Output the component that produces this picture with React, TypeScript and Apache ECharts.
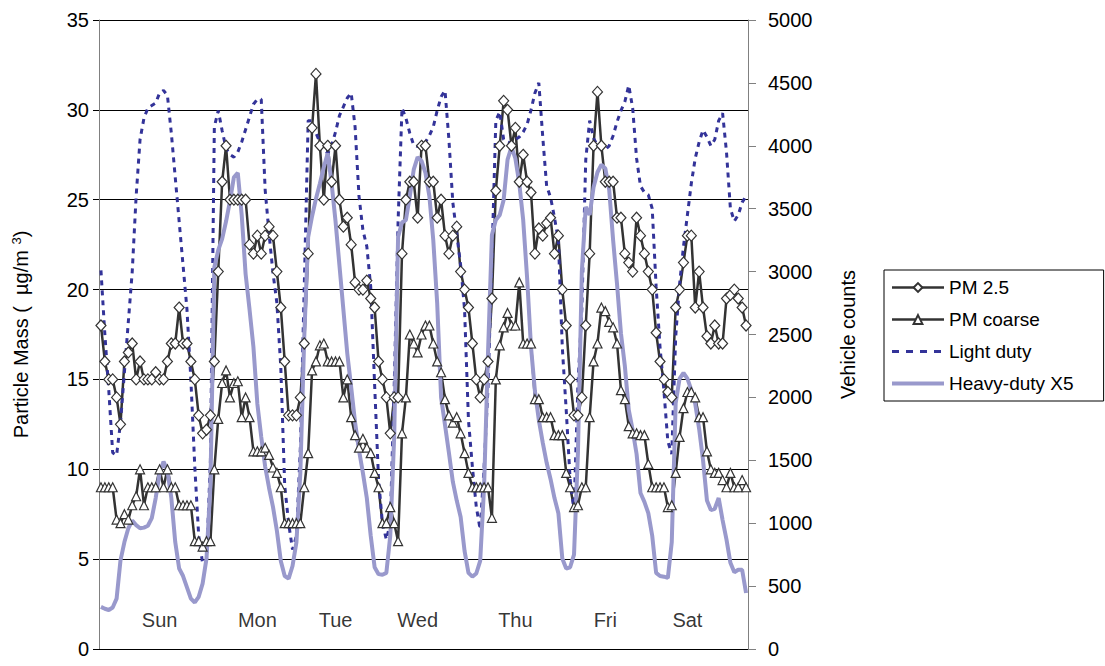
import React, { useEffect, useRef } from "react";
import * as echarts from "echarts";

// hourly categories across the week
const hourCount = 166;
const hours: string[] = Array.from({ length: hourCount }, (_, i) => String(i));

const pm25: number[] = [
  18, 16, 15, 15, 14, 12.5, 16, 16.5, 17, 15, 16, 15, 15, 15, 15.4, 15, 15, 16, 17, 17, 19, 17, 17, 16, 15, 13, 12, 12.2, 13, 16,
  21, 26, 28, 25, 25, 25, 25, 25, 22.5, 22, 23, 22, 23, 23.5, 23, 21, 19, 16, 13, 13, 13, 14, 17, 22, 29, 32, 28, 25, 28, 26,
  28, 25, 23.5, 24, 22.5, 20.4, 20, 20, 20.5, 19.5, 19, 16, 15, 14, 12, 14, 14, 22, 25, 26, 26, 24, 28, 28, 26, 26, 24, 25, 23, 22,
  23, 23.5, 21, 20, 19, 17, 15, 14, 15, 16, 19.5, 25.5, 28, 30.5, 30, 28, 29, 26, 27.5, 26, 25.4, 22, 23.4, 23, 23.7, 24, 22, 23, 20, 18,
  15, 13, 13, 14, 18, 22, 28, 31, 28, 26, 26, 26, 24, 24, 22, 21.5, 21, 24, 23, 22, 21, 20, 17.6, 16, 15, 14.3, 14, 19, 20, 21.5,
  23, 23, 19, 21, 19, 17.4, 17, 18, 17, 17, 19.5, 19.7, 20, 19.5, 19, 18,
];

const pmCoarse: number[] = [
  9, 9, 9, 9, 7.2, 7, 7.5, 7.2, 8, 8.5, 10, 8, 9, 9, 9, 10, 9, 10, 9, 9, 8, 8, 8, 8, 6, 6, 5.7, 6, 6, 10,
  12.8, 14.8, 15.5, 14, 14.8, 14.9, 12.9, 14, 12.9, 11, 11, 11, 11.2, 10.8, 10.1, 9.8, 9, 7, 7, 7, 7, 7, 9, 10.9, 15.5, 16, 16.9, 17, 16, 16,
  16, 16, 14, 15, 12.9, 11.9, 11.2, 11.7, 11.2, 10.9, 9.8, 9, 7, 7, 7.9, 7, 6, 12, 14, 17.5, 17, 16.5, 17.5, 18, 18, 17, 16, 15.4, 13.9, 13,
  12.6, 12.9, 12, 10.9, 9.8, 9, 9, 9, 9, 9, 7.3, 15, 16.9, 17.9, 18.7, 18, 18, 20.4, 17, 17, 17, 13.9, 13.9, 12.9, 12.9, 12.9, 11.9, 11.9, 11.9, 9.8,
  9, 7.9, 8, 9, 9, 12.9, 16, 17, 19, 18.8, 18.2, 17.9, 17, 14.4, 13.9, 12.4, 12, 12, 11.9, 11.9, 10.3, 9, 9, 9, 9, 7.9, 8, 9.8, 11.8, 13.4,
  14.3, 14.3, 14, 12.9, 12.9, 11, 10, 9.8, 9.8, 9.4, 9, 9.8, 9, 9, 9.4, 9,
];

const lightDuty: number[] = [
  3010, 2500, 2060, 1560, 1540, 1800, 2200, 2600, 3000, 3600, 4050, 4220, 4300, 4320, 4340, 4420, 4440, 4400, 4100, 3750, 3400, 3050, 2700, 2140, 1450, 900, 680, 700, 1500, 4150,
  4280, 4120, 3980, 3930, 3910, 3950, 4030, 4130, 4230, 4330, 4370, 4370, 3650, 3300, 2990, 2750, 2240, 1300, 1000, 790, 900, 1600, 2880, 4200, 4200, 4100, 4030, 3980, 3940, 4000,
  4110, 4240, 4310, 4380, 4420, 4150, 3600, 3330, 3200, 2880, 2100, 1350, 1000, 870, 1000, 2080, 3400, 4300, 4220, 4100, 4005, 3995, 3990, 4030, 4080, 4150, 4280, 4390, 4440, 4050,
  3550, 3300, 3050, 2700, 1820, 1450, 1130, 950, 1450, 2080, 3100, 4200, 4270, 4050, 4030, 4020, 4050, 4070, 4110, 4170, 4285, 4420, 4500, 4070, 3680, 3590, 3430, 3250, 2400, 1900,
  1350, 1100, 2100, 2700, 3890, 4200, 4060, 4000, 3970, 3970, 4000, 4080, 4190, 4280, 4350, 4480, 4300, 3900, 3680, 3630, 3610, 3500, 2880, 2400, 2050, 1650, 1550, 2480, 2900, 3200,
  3450, 3700, 3900, 4030, 4125, 4070, 4000, 4050, 4200, 4260, 3950, 3500, 3400, 3450, 3550, 3600,
];

const heavyDutyX5: number[] = [
  335, 320, 310, 330, 400, 705, 850, 960, 1020, 985, 960, 965, 980, 1040, 1200, 1400, 1490, 1420, 1200, 850, 640, 580, 490, 400, 370, 415, 520, 720, 1300, 3035,
  3170, 3260, 3400, 3560, 3750, 3785, 3450, 2980, 2700, 2400, 1950, 1685, 1450, 1280, 1130, 940, 700, 580, 560, 660, 850, 1400, 2480, 3275, 3440, 3580, 3700, 3830, 3940, 3700,
  3400, 3050, 2700, 2350, 2080, 1800, 1580, 1400, 1200, 900, 650, 595, 590, 605, 900, 1685, 3275, 3390, 3410, 3600, 3810, 3910, 3880, 3785, 3600, 3250, 2750, 2000, 1780, 1560,
  1330, 1180, 1050, 780, 605, 575, 600, 700, 1290, 2350, 3290, 3410, 3450, 3570, 3890, 3990, 3900, 3700, 3410, 2950, 2400, 2050, 1820, 1640, 1480, 1350, 1200, 1080, 720, 640,
  650, 750, 1560, 3000, 3515, 3450, 3670, 3790, 3850, 3820, 3650, 3250, 2900, 2510, 2250, 1900, 1740, 1550, 1240, 1170, 1080, 900, 605, 580, 575, 565, 850, 1955, 2150, 2195,
  2150, 2060, 1950, 1750, 1500, 1180, 1105, 1115, 1200, 1025, 870, 685, 610, 630, 630, 445,
];

const dayNames: string[] = ["Sun", "Mon", "Tue", "Wed", "Thu", "Fri", "Sat"];
const dayLabelHour: number[] = [15, 40, 60, 81, 106, 129, 150];
const dayLabelLevel = 1.6;

const seriesNames = ["PM 2.5", "PM coarse", "Light duty", "Heavy-duty X5"];

const FONT = "'Liberation Sans', Arial, sans-serif";

export default function App() {
  const ref = useRef<HTMLDivElement>(null);
  useEffect(() => {
    if (!ref.current) return;
    const chart = echarts.init(ref.current, undefined, { renderer: "svg" });
    chart.setOption({
      animation: false,
      backgroundColor: "#ffffff",
      textStyle: { fontFamily: FONT, color: "#000" },
      grid: { left: 99, right: 357, top: 20, bottom: 17, containLabel: false },
      legend: {
        data: [
          { name: seriesNames[0], lineStyle: { width: 2.5 } },
          { name: seriesNames[1], lineStyle: { width: 2.5 } },
          { name: seriesNames[2], itemStyle: { opacity: 0 }, lineStyle: { width: 3, type: [7, 7] } },
          { name: seriesNames[3], itemStyle: { opacity: 0 }, lineStyle: { width: 4 } },
        ],
        orient: "vertical",
        left: 884,
        top: 270,
        padding: [8, 30, 8, 6],
        itemWidth: 52,
        itemHeight: 11,
        itemGap: 13,
        borderColor: "#000",
        borderWidth: 1,
        backgroundColor: "#fff",
        textStyle: { fontFamily: FONT, fontSize: 19, color: "#000" },
      },
      xAxis: {
        type: "category",
        data: hours,
        boundaryGap: true,
        axisLine: { show: true, lineStyle: { color: "#000", width: 1 } },
        axisTick: { show: false },
        axisLabel: { show: false },
        splitLine: { show: false },
      },
      yAxis: [
        {
          type: "value",
          min: 0,
          max: 35,
          interval: 5,
          position: "left",
          name: "{a|Particle Mass (  \u00b5g/m }{s|3}{a|)}",
          nameLocation: "middle",
          nameGap: 67,
          nameRotate: 90,
          nameTextStyle: {
            rich: {
              a: { fontFamily: FONT, fontSize: 20, color: "#000" },
              s: { fontFamily: FONT, fontSize: 13, color: "#000", padding: [0, 0, 9, 0] },
            },
          },
          axisLine: { show: true, lineStyle: { color: "#808080", width: 1 } },
          axisTick: { show: true, inside: false, length: 6, lineStyle: { color: "#000" } },
          axisLabel: { fontFamily: FONT, fontSize: 20, color: "#000", margin: 10 },
          splitLine: { show: true, lineStyle: { color: "#000", width: 1 } },
        },
        {
          type: "value",
          min: 0,
          max: 5000,
          interval: 500,
          position: "right",
          name: "Vehicle counts",
          nameLocation: "middle",
          nameGap: 90,
          nameRotate: 90,
          nameTextStyle: { fontFamily: FONT, fontSize: 20, color: "#000" },
          axisLine: { show: true, lineStyle: { color: "#808080", width: 1 } },
          axisTick: { show: true, inside: false, length: 8, lineStyle: { color: "#808080" } },
          axisLabel: {
            fontFamily: FONT,
            fontSize: 20,
            color: "#000",
            margin: 20,
            formatter: (v: number) => String(v),
          },
          splitLine: { show: false },
        },
      ],
      series: [
        {
          name: seriesNames[0],
          type: "line",
          yAxisIndex: 0,
          data: pm25,
          symbol: "diamond",
          symbolSize: [10, 11],
          showAllSymbol: true,
          lineStyle: { color: "#333333", width: 2.5 },
          itemStyle: { color: "#ffffff", borderColor: "#333333", borderWidth: 1.2 },
        },
        {
          name: seriesNames[1],
          type: "line",
          yAxisIndex: 0,
          data: pmCoarse,
          symbol: "triangle",
          symbolSize: [9, 9],
          showAllSymbol: true,
          lineStyle: { color: "#333333", width: 2.5 },
          itemStyle: { color: "#ffffff", borderColor: "#333333", borderWidth: 1.2 },
        },
        {
          name: seriesNames[2],
          type: "line",
          yAxisIndex: 1,
          data: lightDuty,
          symbol: "none",
          lineStyle: { color: "#333399", width: 3, type: [5, 5] },
          itemStyle: { color: "#333399" },
        },
        {
          name: seriesNames[3],
          type: "line",
          yAxisIndex: 1,
          data: heavyDutyX5,
          symbol: "none",
          lineStyle: { color: "#9999cc", width: 4 },
          itemStyle: { color: "#9999cc" },
        },
        {
          name: "days",
          type: "scatter",
          yAxisIndex: 0,
          symbolSize: 0,
          silent: true,
          data: dayNames.map((d, i) => ({ name: d, value: [dayLabelHour[i], dayLabelLevel] })),
          label: {
            show: true,
            position: "inside",
            formatter: (p: any) => p.name,
            fontFamily: FONT,
            fontSize: 20,
            color: "#000",
          },
        },
      ],
    });
    return () => chart.dispose();
  }, []);
  return <div ref={ref} style={{ width: 1105, height: 666, position: "absolute", left: 0, top: 0 }} />;
}
